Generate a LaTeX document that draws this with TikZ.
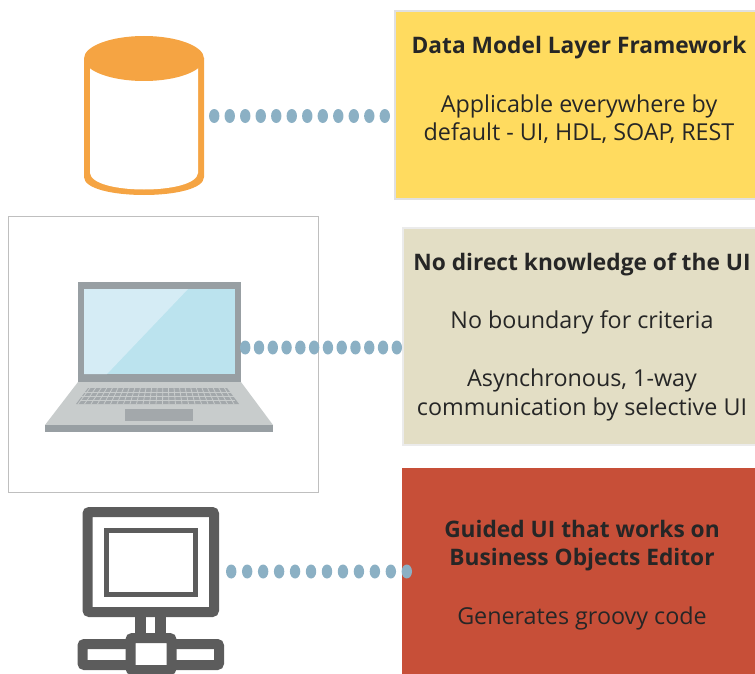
\documentclass[tikz,border=0pt]{standalone}
\usepackage{xcolor}
\usepackage{fontspec}
\setmainfont{Open Sans}
\usetikzlibrary{decorations.markings}

% Pixelmass
\def\s{0.03cm}
\newcommand{\infotitle}[1]{\textbf{\fontsize{19.4pt}{24pt}\selectfont #1}}

\definecolor{dotblue}{HTML}{8BB0C4}
\definecolor{dborange}{HTML}{F5A443}
\definecolor{boxyellow}{HTML}{FFDB5F}
\definecolor{boxbeige}{HTML}{E3DEC5}
\definecolor{boxred}{HTML}{C74F38}
\definecolor{lapframe}{HTML}{989FA3}
\definecolor{lapscreen}{HTML}{BBE3EE}
\definecolor{lapshine}{HTML}{D5ECF5}
\definecolor{lapbase}{HTML}{C8CCCC}
\definecolor{lapkeys}{HTML}{A3A8AB}
\definecolor{icongray}{HTML}{5C5C5C}

\tikzset{
    infobox/.style={anchor=north west, inner sep=0pt, minimum width=#1*\s},
    infotext/.style={align=center, text=black!85, font=\fontsize{19.9pt}{24pt}\selectfont},
    iconbox/.style={inner sep=0pt},
    dotline/.style={draw=none, postaction={decorate}, decoration={markings,
        mark=between positions 0 and 1 step #1 with {\fill[dotblue] (0,0) ellipse (5.2 and 7);}}},
    dotline/.default=0.0908,
    monitorline/.style={draw=icongray, line width=10*\s, rounded corners=2*\s},
}

\begin{document}
\begin{tikzpicture}[x=\s, y=-\s]
    \useasboundingbox (0,0) rectangle (755,674);

    % Rahmen um den Laptop
    \node[infobox=310, minimum height=276*\s, draw=black!25, line width=1.2*\s] (lapframebox) at (8,216) {};

    % Kaesten rechts
    \node[infobox=361, minimum height=188*\s, fill=boxyellow, draw=black!12, line width=2*\s] (modelbox) at (394,10) {};
    \node[infobox=353, minimum height=217*\s, fill=boxbeige, draw=black!8, line width=1.5*\s] (uibox) at (402,227) {};
    \node[infobox=353, minimum height=206*\s, fill=boxred] (guidebox) at (402,468) {};

    % Texte
    \node[infotext] (modeltext) at (579,90) {\infotitle{Data Model Layer Framework}\\[31*\s]
        Applicable everywhere by\\default - UI, HDL, SOAP, REST};
    \node[infotext] (uitext) at (582,337) {\infotitle{No direct knowledge of the UI}\\[30*\s]
        No boundary for criteria\\[30*\s]
        Asynchronous, 1-way\\communication by selective UI};
    \node[infotext] (guidetext) at (582,575) {\infotitle{Guided UI that works on}\\\infotitle{Business Objects Editor}\\[31*\s]
        Generates groovy code};

    % Datenbank
    \node[iconbox, minimum width=120*\s, minimum height=161*\s] (dbicon) at (144,116) {};
    \fill[dborange] (84,58) -- (84,177) .. controls (84,201) and (204,201) .. (204,177) -- (204,58) -- cycle;
    \fill[white] (90,58) -- (90,173) .. controls (92,195) and (196,195) .. (198,173) -- (198,58) -- cycle;
    \fill[dborange] (144,58.5) ellipse (60 and 22.5);

    % Laptop
    \node[iconbox, minimum width=163*\s, minimum height=131*\s] (laptop) at (159.5,347.5) {};
    \fill[lapbase] (78,382) -- (241,382) -- (273,425) -- (45,425) -- cycle;
    \fill[lapframe] (45,425) rectangle (273,432);
    \fill[lapframe] (78,282) rectangle (241,382);
    \fill[lapscreen] (84,289) rectangle (235,374);
    \fill[lapshine] (84,289) -- (188,289) -- (107,374) -- (84,374) -- cycle;
    \fill[lapkeys] (88,388) -- (227,388) -- (239,404) -- (76,404) -- cycle;
    \foreach \y in {392,396,400} {
        \draw[lapbase, line width=0.8*\s] (80,\y) -- (235,\y);
    }
    \foreach \x in {0,1,...,24} {
        \draw[lapbase, line width=0.8*\s] (90+\x*5.6,388) -- (78+\x*6.5,404);
    }
    \fill[lapkeys] (125,409) rectangle (193,421);

    % Monitor mit Netzwerk
    \node[iconbox, minimum width=137*\s, minimum height=129*\s] (monitor) at (150.5,571.5) {};
    \draw[monitorline] (87.5,512) rectangle (214,612);
    \draw[icongray, line width=5*\s] (106.5,530.5) rectangle (195.5,594);
    \draw[icongray, line width=11*\s] (140,612) -- (140,638);
    \draw[icongray, line width=11*\s] (160.5,612) -- (160.5,638);
    \draw[monitorline] (82.5,644) rectangle (219,665);
    \draw[monitorline, fill=white] (130.5,638) rectangle (171.5,670);

    % Punktlinien
    \draw[dotline] ([xshift=10*\s]dbicon.east) -- ([xshift=-9*\s]dbicon.east -| modelbox.west);
    \draw[dotline] ([xshift=4*\s]laptop.east) -- ([xshift=-5*\s]laptop.east -| uibox.west);
    \draw[dotline] ([xshift=12*\s]monitor.east) -- ([xshift=5*\s]monitor.east -| guidebox.west);
\end{tikzpicture}
\end{document}
